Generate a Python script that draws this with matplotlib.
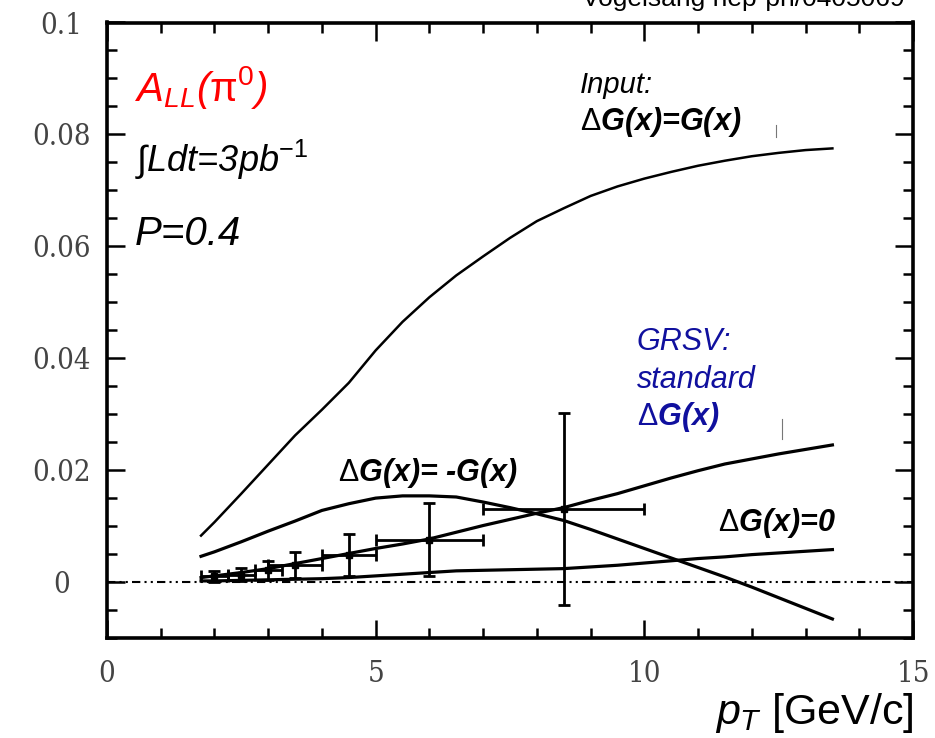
import matplotlib
matplotlib.use("Agg")
import matplotlib.pyplot as plt
from matplotlib.ticker import FixedLocator, MultipleLocator
import numpy as np

plt.rcParams['font.family'] = ['Liberation Sans', 'DejaVu Sans']
plt.rcParams['mathtext.fontset'] = 'custom'
plt.rcParams['mathtext.rm'] = 'Liberation Sans'
plt.rcParams['mathtext.it'] = 'Liberation Sans:italic'
plt.rcParams['mathtext.bf'] = 'Liberation Sans:bold'

# curves, pT in GeV/c
pt_curve = [1.75, 2.0, 2.5, 3.0, 3.5, 4.0, 4.5, 5.0, 5.5, 6.0, 6.5, 7.0, 7.5,
            8.0, 8.5, 9.0, 9.5, 10.0, 10.5, 11.0, 11.5, 12.0, 12.5, 13.0, 13.5]
all_input = [0.0083, 0.0107, 0.0158, 0.0210, 0.0262, 0.0308, 0.0356, 0.0414,
             0.0465, 0.0509, 0.0548, 0.0582, 0.0615, 0.0645, 0.0668, 0.0690,
             0.0707, 0.0721, 0.0733, 0.0744, 0.0753, 0.0761, 0.0767, 0.0772, 0.0775]
all_grsv = [0.0008, 0.0011, 0.0017, 0.0024, 0.0033, 0.0042, 0.0051, 0.0060,
            0.0068, 0.0077, 0.0089, 0.0101, 0.0112, 0.0123, 0.0133, 0.0146,
            0.0158, 0.0172, 0.0186, 0.0199, 0.0211, 0.0220, 0.0229, 0.0237, 0.0245]
all_minus = [0.0046, 0.0054, 0.0072, 0.0091, 0.0109, 0.0128, 0.0140, 0.0150,
             0.0154, 0.0154, 0.0152, 0.0143, 0.0133, 0.0122, 0.0110, 0.0094,
             0.0077, 0.0060, 0.0043, 0.0026, 0.0009, -0.0009, -0.0028, -0.0047, -0.0066]
all_zero = [0.0002, 0.0002, 0.0003, 0.0004, 0.0005, 0.0006, 0.0008, 0.0011,
            0.0014, 0.0017, 0.0020, 0.0021, 0.0022, 0.0023, 0.0024, 0.0027,
            0.0030, 0.0034, 0.0038, 0.0042, 0.0045, 0.0049, 0.0052, 0.0055, 0.0058]

# projected data points
pt_pts = [2.0, 2.5, 3.0, 3.5, 4.5, 6.0, 8.5]
all_pts = [0.0010, 0.0013, 0.0021, 0.0030, 0.0048, 0.0076, 0.0131]
all_err = [0.0010, 0.0012, 0.0017, 0.0023, 0.0037, 0.0066, 0.0172]
pt_err = [0.25, 0.25, 0.25, 0.5, 0.5, 1.0, 1.5]

# two stray marks in the original scan
stray_x = [12.45, 12.57]
stray_y0 = [0.0795, 0.0255]
stray_y1 = [0.0816, 0.0292]

y_ticks = [0, 0.02, 0.04, 0.06, 0.08, 0.1]
y_labels = ['0', '0.02', '0.04', '0.06', '0.08', '0.1']
x_ticks = [0, 5, 10, 15]
x_labels = ['0', '5', '10', '15']

W, H = 935, 738
fig = plt.figure(figsize=(W/100, H/100), dpi=100)
ax = fig.add_axes([107/W, 1-638/H, 806/W, 615.5/H])

def fpos(x, y):
  return x/W, 1 - y/H

ax.set_xlim(0, 15)
ax.set_ylim(-0.01, 0.1)

# zero line
ax.axhline(0, color='black', lw=1.5, dashes=(4.0, 2.0, 1.0, 2.0, 1.0, 2.0))

ax.plot(pt_curve, all_input, color='black', lw=1.8)
ax.plot(pt_curve, all_grsv, color='black', lw=2.3)
ax.plot(pt_curve, all_minus, color='black', lw=2.3)
ax.plot(pt_curve, all_zero, color='black', lw=2.3)

ax.errorbar(pt_pts, all_pts, yerr=all_err, xerr=pt_err, fmt='s', ms=4,
            color='black', elinewidth=2, capsize=4, capthick=2)

for sx, a, b in zip(stray_x, stray_y0, stray_y1):
  ax.plot([sx, sx], [a, b], color='#777777', lw=0.8)

# frame and ticks
for s in ax.spines.values():
  s.set_linewidth(2.6)
ax.xaxis.set_major_locator(FixedLocator(x_ticks))
ax.xaxis.set_minor_locator(MultipleLocator(1))
ax.yaxis.set_major_locator(FixedLocator(y_ticks))
ax.yaxis.set_minor_locator(MultipleLocator(0.005))
ax.set_xticklabels(x_labels)
ax.set_yticklabels(y_labels)
ax.tick_params(which='both', direction='in', top=True, right=True, width=1.8)
ax.tick_params(which='major', length=13)
ax.tick_params(which='minor', length=7.5)
ax.tick_params(axis='x', pad=16)
ax.tick_params(axis='y', pad=33)
for lab in ax.get_xticklabels() + ax.get_yticklabels():
  lab.set_fontfamily('DejaVu Serif')
  lab.set_fontstretch('condensed')
  lab.set_fontsize(21)
  lab.set_color('#444444')
for lab in ax.get_yticklabels():
  lab.set_horizontalalignment('center')

# labels
fig.text(*fpos(914, 724), r'$\mathit{p}_{\mathit{T}}$ [GeV/c]', fontsize=31,
         ha='right', va='baseline')
fig.text(*fpos(905, 6), 'Vogelsang hep-ph/0405069', fontsize=19,
         ha='right', va='baseline')

fig.text(*fpos(135, 101), r'$\mathit{A}_{\mathit{LL}}$($\mathrm{\pi}^{\mathrm{0}}$)',
         fontsize=29, color='red', style='italic', va='baseline')
fig.text(*fpos(135, 172), r'∫Ldt=3pb$^{\mathit{-1}}$', fontsize=26,
         style='italic', va='baseline')
fig.text(*fpos(135, 245), 'P=0.4', fontsize=29, style='italic', va='baseline')

fig.text(*fpos(580, 93), 'Input:', fontsize=21, style='italic', va='baseline')
fig.text(*fpos(580, 130), r'$\Delta$G(x)=G(x)', fontsize=22, style='italic',
         weight='bold', va='baseline')

blue = '#10109e'
fig.text(*fpos(637, 350), 'GRSV:', fontsize=22, style='italic', color=blue, va='baseline')
fig.text(*fpos(637, 388), 'standard', fontsize=22, style='italic', color=blue, va='baseline')
fig.text(*fpos(637, 425), r'$\Delta$G(x)', fontsize=22, style='italic', weight='bold',
         color=blue, va='baseline')

fig.text(*fpos(338, 481), r'$\Delta$G(x)= -G(x)', fontsize=22, style='italic',
         weight='bold', va='baseline')
fig.text(*fpos(718, 531), r'$\Delta$G(x)=0', fontsize=22, style='italic',
         weight='bold', va='baseline')

fig.savefig('out.png', dpi=100)
